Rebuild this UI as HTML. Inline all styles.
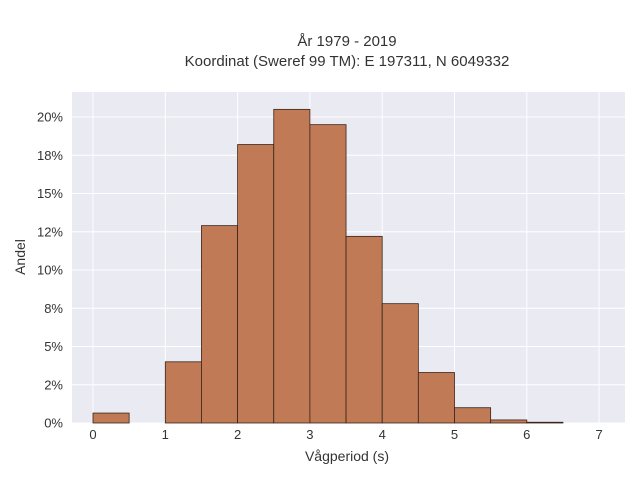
<!DOCTYPE html>
<html><head><meta charset="utf-8"><style>
body{margin:0;background:#fff;font-family:"Liberation Sans",sans-serif;}
svg text{font-family:"Liberation Sans",sans-serif;fill:#333;}
</style></head><body>
<svg id="chart" width="640" height="480">
<text x="347" y="46" text-anchor="middle" font-size="15">År 1979 - 2019</text>
<text x="347" y="66" text-anchor="middle" font-size="15">Koordinat (Sweref 99 TM): E 197311, N 6049332</text>
<rect x="72" y="92" width="553" height="331" fill="#eaeaf2"/>
<g id="grid"></g><g id="bars"></g><g id="axes"></g>
<text x="347" y="461" text-anchor="middle" font-size="14">Vågperiod (s)</text>
<text transform="translate(25,257) rotate(-90)" text-anchor="middle" font-size="14">Andel</text>
</svg>
<script>
const binStarts=[0,1,1.5,2,2.5,3,3.5,4,4.5,5,5.5,6];
const binValues=[0.65,4.0,12.9,18.2,20.5,19.5,12.2,7.8,3.3,1.0,0.2,0.05];
const binWidth=0.5;
const xTicks=[0,1,2,3,4,5,6,7];
const yTicks=[0,2.5,5,7.5,10,12.5,15,17.5,20];
const yTickLabels=["0%","2%","5%","8%","10%","12%","15%","18%","20%"];
const NS="http://www.w3.org/2000/svg";
const x=v=>93+v*72.3;
const y=v=>423-v*15.3;
function mk(t,a,p){const e=document.createElementNS(NS,t);for(const k in a)e.setAttribute(k,a[k]);p.appendChild(e);return e;}
const grid=document.getElementById('grid'),bars=document.getElementById('bars'),axes=document.getElementById('axes');
xTicks.forEach(t=>{
 const l=mk('line',{x1:x(t),x2:x(t),y1:92,y2:423,stroke:'#fff','stroke-width':1},grid);
 
 
 const tx=mk('text',{x:x(t),y:439,'text-anchor':'middle','font-size':13},axes);
 tx.textContent=t;
 
 
});
yTicks.forEach((t,i)=>{
 const l=mk('line',{x1:72,x2:625,y1:y(t),y2:y(t),stroke:'#fff','stroke-width':1},grid);
 
 
 const tx=mk('text',{x:63,y:y(t)+4.5,'text-anchor':'end','font-size':13},axes);
 tx.textContent=yTickLabels[i];
 
 
});
binStarts.forEach((s,i)=>{
 const r=mk('rect',{x:x(s),y:y(binValues[i]),width:x(s+binWidth)-x(s),height:y(0)-y(binValues[i]),fill:'#c07a55',stroke:'#3a2418','stroke-width':0.8},bars);
 
 
});
</script>
</body></html>
